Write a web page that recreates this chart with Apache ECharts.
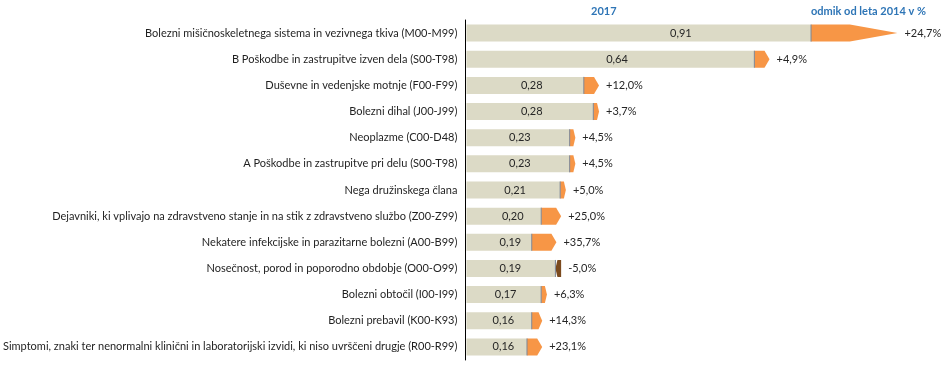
<!DOCTYPE html>
<html><head><meta charset="utf-8">
<script src="https://cdn.jsdelivr.net/npm/echarts@6/dist/echarts.min.js"></script>
<style>html,body{margin:0;padding:0;background:#fff}#c{width:951px;height:366px}</style>
</head><body><div id="c"></div>
<script>
const categories = [
  'Bolezni mišičnoskeletnega sistema in vezivnega tkiva (M00-M99)',
  'B Poškodbe in zastrupitve izven dela (S00-T98)',
  'Duševne in vedenjske motnje (F00-F99)',
  'Bolezni dihal (J00-J99)',
  'Neoplazme (C00-D48)',
  'A Poškodbe in zastrupitve pri delu (S00-T98)',
  'Nega družinskega člana',
  'Dejavniki, ki vplivajo na zdravstveno stanje in na stik z zdravstveno službo (Z00-Z99)',
  'Nekatere infekcijske in parazitarne bolezni (A00-B99)',
  'Nosečnost, porod in poporodno obdobje (O00-O99)',
  'Bolezni obtočil (I00-I99)',
  'Bolezni prebavil (K00-K93)',
  'Simptomi, znaki ter nenormalni klinični in laboratorijski izvidi, ki niso uvrščeni drugje (R00-R99)'
];
const values2017 = [0.91, 0.64, 0.28, 0.28, 0.23, 0.23, 0.21, 0.20, 0.19, 0.19, 0.17, 0.16, 0.16];
const changePct = [24.7, 4.9, 12.0, 3.7, 4.5, 4.5, 5.0, 25.0, 35.7, -5.0, 6.3, 14.3, 23.1];
const headerValue = '2017';
const headerChange = 'odmik od leta 2014 v %';

const FONT = 'Lato';
const fmtVal = v => v.toFixed(2).replace('.', ',');
const fmtPct = p => (p > 0 ? '+' : '') + p.toFixed(1).replace('.', ',') + '%';

const data = values2017.map((v, i) => [i, v, changePct[i]]);

const chart = echarts.init(document.getElementById('c'), null, {renderer: 'canvas'});

function renderItem(params, api) {
  const idx = api.value(0);
  const v = api.value(1);
  const p = api.value(2);
  const v0 = v / (1 + p / 100);
  const lo = Math.min(v, v0), hi = Math.max(v, v0);
  const pZero = api.coord([0, idx]);
  const pLo = api.coord([lo, idx]);
  const pHi = api.coord([hi, idx]);
  const pV = api.coord([v, idx]);
  const cy = pZero[1];
  const h = 17;
  const top = cy - h / 2, bot = cy + h / 2;
  const xs = pLo[0], xe = pHi[0] + 1;
  const len = xe - xs;
  const tip = len > 40 ? len * 0.55 : Math.min(len * 0.35, 5);
  let pts;
  if (p >= 0) {
    pts = [[xs, top], [xe - tip, top], [xe, cy], [xe - tip, bot], [xs, bot]];
  } else {
    pts = [[xe, top], [xs + tip, top], [xs, cy], [xs + tip, bot], [xe, bot]];
  }
  return {
    type: 'group',
    children: [
      {type: 'rect', shape: {x: pZero[0] + 1, y: top, width: xs - pZero[0] - 1, height: h},
       style: {fill: '#dcdac6'}},
      {type: 'polygon', shape: {points: pts},
       style: {fill: p >= 0 ? '#f79646' : '#7b4a1e'}},
      {type: 'line', shape: {x1: xs, y1: top, x2: xs, y2: bot},
       style: {stroke: '#7d8797', lineWidth: 1}},
      {type: 'text', x: (pZero[0] + pV[0]) / 2, y: cy,
       style: {text: fmtVal(v), fill: '#262626', font: '11px ' + FONT, align: 'center', verticalAlign: 'middle'}},
      {type: 'text', x: xe + 7, y: cy,
       style: {text: fmtPct(p), fill: '#262626', font: '11px ' + FONT, align: 'left', verticalAlign: 'middle'}}
    ]
  };
}

chart.setOption({
  animation: false,
  grid: {left: 463, right: 12, top: 20, bottom: 6, containLabel: false},
  xAxis: {type: 'value', min: 0, max: 1, show: false},
  yAxis: {
    type: 'category', data: categories, inverse: true,
    axisLine: {show: true, lineStyle: {color: '#000', width: 1}},
    axisTick: {show: false},
    axisLabel: {color: '#1f1f1f', fontFamily: FONT, fontSize: 11, margin: 8}
  },
  graphic: [
    {type: 'text', left: 591, top: 6, style: {text: headerValue, fill: '#2e75b6', font: 'bold 11px ' + FONT}},
    {type: 'text', left: 811, top: 6, style: {text: headerChange, fill: '#2e75b6', font: 'bold 11px ' + FONT}}
  ],
  series: [{
    type: 'custom',
    renderItem: renderItem,
    encode: {x: 1, y: 0},
    data: data,
    clip: false
  }]
});
</script></body></html>
